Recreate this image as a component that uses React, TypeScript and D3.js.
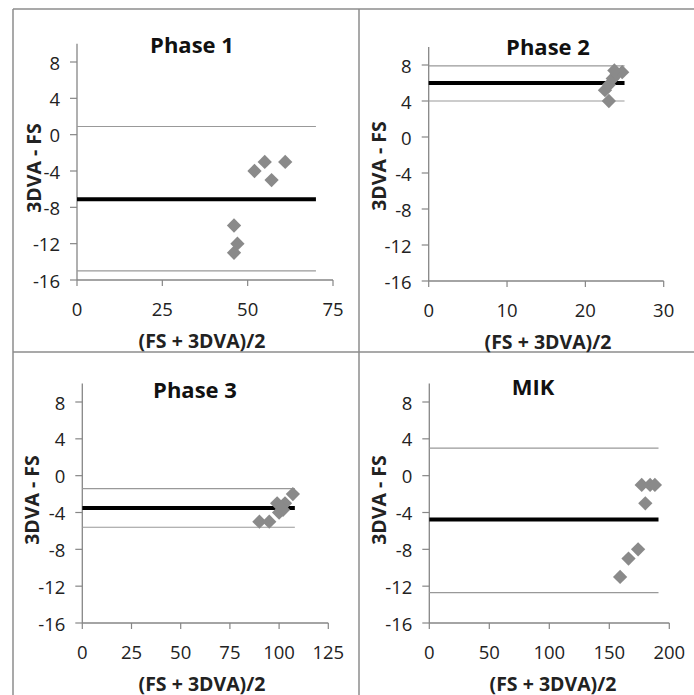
import React from "react";
import * as d3 from "d3";

// ---- data ----
const phase1X = [46, 47, 46, 52, 55, 57, 61];
const phase1Y = [-13, -12, -10, -4, -3, -5, -3];
const phase2X = [23.0, 22.5, 23.0, 23.5, 24.0, 24.7, 23.7];
const phase2Y = [4.0, 5.2, 5.8, 6.5, 7.0, 7.2, 7.4];
const phase3X = [90, 95, 100, 99, 103, 102, 107];
const phase3Y = [-5, -5, -4, -3, -3, -3.7, -2];
const mikX = [159, 166, 174, 180, 177, 184, 188];
const mikY = [-11, -9, -8, -3, -1, -1, -1];

const titles = ["Phase 1", "Phase 2", "Phase 3", "MIK"];
const meanDiff = [-7.1, 6.0, -3.5, -4.75];
const upperLoA = [0.9, 7.9, -1.4, 3.0];
const lowerLoA = [-15.0, 4.0, -5.6, -12.7];
const lineEnd = [70, 25, 108, 191];
const xMax = [75, 30, 125, 200];
const xTickStep = [25, 10, 25, 50];
const yTicks = [8, 4, 0, -4, -8, -12, -16];
const yMin = -16;
const yMax = 10;
const xTitle = "(FS + 3DVA)/2";
const yTitle = "3DVA - FS";

const seriesX = [phase1X, phase2X, phase3X, mikX];
const seriesY = [phase1Y, phase2Y, phase3Y, mikY];

// ---- layout ----
const layouts = [
  { x0: 77, x1: 333, yLo: 280, yHi: 62, titleX: 192, titleY: 53, xLabX: 202, yLabX: 33, yLabY: 168 },
  { x0: 428.7, x1: 663.7, yLo: 281, yHi: 65, titleX: 548, titleY: 55, xLabX: 548, yLabX: 378, yLabY: 166 },
  { x0: 82.3, x1: 328.3, yLo: 623, yHi: 402, titleX: 195, titleY: 398, xLabX: 202, yLabX: 31, yLabY: 500 },
  { x0: 429.3, x1: 669.3, yLo: 623, yHi: 402, titleX: 533, titleY: 395, xLabX: 553, yLabX: 378, yLabY: 500 },
];

const FONT = "'Open Sans', 'DejaVu Sans', sans-serif";
const AXIS = "#868686";

function Panel({ i }: { i: number }) {
  const L = layouts[i];
  const x = d3.scaleLinear().domain([0, xMax[i]]).range([L.x0, L.x1]);
  const y = d3.scaleLinear().domain([-16, 8]).range([L.yLo, L.yHi]);
  const xTicks = d3.range(0, xMax[i] + 0.001, xTickStep[i]);
  const diamond = d3.symbol().type(d3.symbolDiamond2).size(130)();
  const hline = (v: number) => d3.line<number>()
    .x((d) => x(d))
    .y(() => y(v))([0, lineEnd[i]]) as string;
  return (
    <g>
      {/* axes */}
      <line x1={x(0)} x2={x(0)} y1={y(yMax)} y2={y(yMin)} stroke={AXIS} strokeWidth={1.3} />
      <line x1={x(0)} x2={x(xMax[i])} y1={y(yMin)} y2={y(yMin)} stroke={AXIS} strokeWidth={1.3} />
      {yTicks.map((t) => (
        <g key={"y" + t}>
          <line x1={x(0) - 7} x2={x(0)} y1={y(t)} y2={y(t)} stroke={AXIS} strokeWidth={1.2} />
          <text x={x(0) - 17} y={y(t)} textAnchor="end" dominantBaseline="central"
            fontFamily={FONT} fontSize={18.5} fill="#222">{t}</text>
        </g>
      ))}
      {xTicks.map((t) => (
        <g key={"x" + t}>
          <line x1={x(t)} x2={x(t)} y1={y(yMin)} y2={y(yMin) + 6} stroke={AXIS} strokeWidth={1.2} />
          <text x={x(t)} y={y(yMin) + 28} textAnchor="middle" dominantBaseline="central"
            fontFamily={FONT} fontSize={18.5} fill="#222">{t}</text>
        </g>
      ))}
      {/* limits of agreement */}
      <path d={hline(upperLoA[i])} stroke="#999" strokeWidth={1.2} fill="none" />
      <path d={hline(lowerLoA[i])} stroke="#999" strokeWidth={1.2} fill="none" />
      <path d={hline(meanDiff[i])} stroke="#000" strokeWidth={4} fill="none" />
      {/* points */}
      {seriesX[i].map((xv, k) => (
        <path key={k} d={diamond!} transform={`translate(${x(xv)},${y(seriesY[i][k])})`} fill="#8a8a8a" />
      ))}
      {/* titles */}
      <text x={L.titleX} y={L.titleY} textAnchor="middle" fontFamily={FONT} fontSize={22}
        fontWeight="bold" fill="#111">{titles[i]}</text>
      <text x={L.xLabX} y={y(yMin) + 60} textAnchor="middle" dominantBaseline="central"
        fontFamily={FONT} fontSize={19.5} fontWeight="bold" fill="#222">{xTitle}</text>
      <text transform={`translate(${L.yLabX},${L.yLabY}) rotate(-90)`} textAnchor="middle"
        dominantBaseline="central" fontFamily={FONT} fontSize={19.5} fontWeight="bold" fill="#222">{yTitle}</text>
    </g>
  );
}

export default function App() {
  return (
    <svg width={694} height={695} style={{ position: "absolute", left: 0, top: 0, background: "#fff" }}>
      <rect width={694} height={695} fill="#fff" />
      <line x1={13} x2={13} y1={9} y2={695} stroke="#8c8c8c" strokeWidth={1.5} />
      <line x1={13} x2={694} y1={9} y2={9} stroke="#8c8c8c" strokeWidth={1.5} />
      <line x1={359} x2={359} y1={9} y2={695} stroke="#8c8c8c" strokeWidth={1.5} />
      <line x1={13} x2={694} y1={352} y2={352} stroke="#8c8c8c" strokeWidth={1.5} />
      {[0, 1, 2, 3].map((i) => <Panel key={i} i={i} />)}
    </svg>
  );
}
